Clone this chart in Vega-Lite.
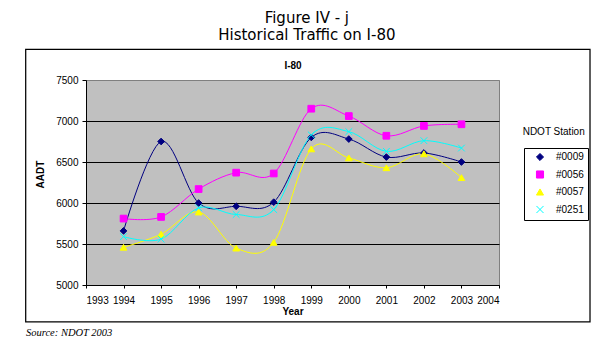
{
  "$schema": "https://vega.github.io/schema/vega-lite/v6.json",
  "width": 413,
  "height": 205,
  "autosize": {"type": "none"},
  "padding": {"left": 86, "top": 80, "right": 114, "bottom": 66},
  "background": "white",
  "title": {
    "text": ["Figure IV - j", "Historical Traffic on I-80"],
    "font": "DejaVu Sans",
    "fontSize": 15,
    "fontWeight": "normal",
    "lineHeight": 16.5,
    "color": "black",
    "anchor": "middle",
    "frame": "bounds",
    "offset": 6,
    "dx": -1
  },
  "config": {
    "view": {"fill": "#C0C0C0", "stroke": "#808080", "strokeWidth": 1},
    "font": "Liberation Sans",
    "axis": {
      "labelFont": "Liberation Sans",
      "labelFontSize": 10,
      "labelColor": "black",
      "titleFont": "Liberation Sans",
      "titleFontSize": 10,
      "titleFontWeight": "bold",
      "titleColor": "black",
      "tickColor": "black",
      "domainColor": "black",
      "gridOpacity": 1,
      "gridWidth": 1
    }
  },
  "data": {
    "values": [
      {"Station": "#0009", "Year": 1994, "AADT": 5660},
      {"Station": "#0009", "Year": 1995, "AADT": 6750},
      {"Station": "#0009", "Year": 1996, "AADT": 6000},
      {"Station": "#0009", "Year": 1997, "AADT": 5960},
      {"Station": "#0009", "Year": 1998, "AADT": 6010},
      {"Station": "#0009", "Year": 1999, "AADT": 6800},
      {"Station": "#0009", "Year": 2000, "AADT": 6780},
      {"Station": "#0009", "Year": 2001, "AADT": 6560},
      {"Station": "#0009", "Year": 2002, "AADT": 6610},
      {"Station": "#0009", "Year": 2003, "AADT": 6500},
      {"Station": "#0056", "Year": 1994, "AADT": 5810},
      {"Station": "#0056", "Year": 1995, "AADT": 5830},
      {"Station": "#0056", "Year": 1996, "AADT": 6170},
      {"Station": "#0056", "Year": 1997, "AADT": 6370},
      {"Station": "#0056", "Year": 1998, "AADT": 6360},
      {"Station": "#0056", "Year": 1999, "AADT": 7150},
      {"Station": "#0056", "Year": 2000, "AADT": 7060},
      {"Station": "#0056", "Year": 2001, "AADT": 6820},
      {"Station": "#0056", "Year": 2002, "AADT": 6940},
      {"Station": "#0056", "Year": 2003, "AADT": 6960},
      {"Station": "#0057", "Year": 1994, "AADT": 5460},
      {"Station": "#0057", "Year": 1995, "AADT": 5620},
      {"Station": "#0057", "Year": 1996, "AADT": 5890},
      {"Station": "#0057", "Year": 1997, "AADT": 5450},
      {"Station": "#0057", "Year": 1998, "AADT": 5520},
      {"Station": "#0057", "Year": 1999, "AADT": 6660},
      {"Station": "#0057", "Year": 2000, "AADT": 6550},
      {"Station": "#0057", "Year": 2001, "AADT": 6430},
      {"Station": "#0057", "Year": 2002, "AADT": 6600},
      {"Station": "#0057", "Year": 2003, "AADT": 6310},
      {"Station": "#0251", "Year": 1994, "AADT": 5590},
      {"Station": "#0251", "Year": 1995, "AADT": 5560},
      {"Station": "#0251", "Year": 1996, "AADT": 5940},
      {"Station": "#0251", "Year": 1997, "AADT": 5860},
      {"Station": "#0251", "Year": 1998, "AADT": 5920},
      {"Station": "#0251", "Year": 1999, "AADT": 6830},
      {"Station": "#0251", "Year": 2000, "AADT": 6870},
      {"Station": "#0251", "Year": 2001, "AADT": 6630},
      {"Station": "#0251", "Year": 2002, "AADT": 6760},
      {"Station": "#0251", "Year": 2003, "AADT": 6670}
    ]
  },
  "layer": [
    {
      "data": {"values": [{}]},
      "mark": {"type": "rect", "fill": "transparent", "stroke": "black", "strokeWidth": 1.25},
      "encoding": {
        "x": {
          "datum": 1991.394,
          "type": "quantitative",
          "scale": {"domain": [1993, 2004], "nice": false, "zero": false},
          "axis": {
            "orient": "bottom",
            "title": "Source: NDOT 2003",
            "labels": false,
            "ticks": false,
            "domain": false,
            "grid": false,
            "titleX": -60.5,
            "titleY": 50.5,
            "titleAlign": "left",
            "titleAnchor": "start",
            "titleBaseline": "alphabetic",
            "titleFont": "Liberation Serif",
            "titleFontStyle": "italic",
            "titleFontWeight": "normal",
            "titleFontSize": 10.5
          }
        },
        "x2": {"datum": 2006.424},
        "y": {
          "datum": 7874,
          "type": "quantitative",
          "scale": {"domain": [5000, 7500], "nice": false, "zero": false},
          "axis": null
        },
        "y2": {"datum": 4549}
      }
    },
    {
      "mark": {"type": "line", "interpolate": "cardinal", "strokeWidth": 1},
      "encoding": {
        "x": {
          "field": "Year",
          "type": "quantitative",
          "scale": {"domain": [1993, 2004], "nice": false, "zero": false},
          "axis": {
            "orient": "bottom",
            "title": "Year",
            "values": [1993, 1994, 1995, 1996, 1997, 1998, 1999, 2000, 2001, 2002, 2003, 2004],
            "format": "d",
            "grid": false,
            "tickSize": 3,
            "labelPadding": 7.5,
            "titleY": 29,
            "titleBaseline": "alphabetic"
          }
        },
        "y": {
          "field": "AADT",
          "type": "quantitative",
          "scale": {"domain": [5000, 7500], "nice": false, "zero": false},
          "axis": {
            "orient": "left",
            "title": "AADT",
            "values": [5000, 5500, 6000, 6500, 7000, 7500],
            "format": "d",
            "grid": true,
            "gridColor": {"condition": {"test": "datum.value >= 7500", "value": "#808080"}, "value": "black"},
            "tickSize": 4,
            "labelPadding": 4,
            "titleX": -46,
            "titleY": 94,
            "titleAngle": 270,
            "titleAlign": "center",
            "titleBaseline": "middle"
          }
        },
        "color": {
          "field": "Station",
          "type": "nominal",
          "scale": {"domain": ["#0009", "#0056", "#0057", "#0251"], "range": ["#000080", "#FF00FF", "#FFFF00", "#00FFFF"]},
          "legend": {
            "title": null,
            "orient": "none",
            "legendX": 438,
            "legendY": 68,
            "strokeColor": "black",
            "padding": 4,
            "symbolSize": 50,
            "symbolOffset": 7,
            "labelOffset": 11,
            "rowPadding": 5.5,
            "labelFont": "Liberation Sans",
            "labelFontSize": 10,
            "labelColor": "black",
            "symbolStrokeWidth": 1
          }
        }
      }
    },
    {
      "mark": {"type": "point", "filled": true, "size": 45, "strokeWidth": 1, "opacity": 1},
      "encoding": {
        "x": {
          "field": "Year",
          "type": "quantitative",
          "axis": {
            "orient": "top",
            "title": "I-80",
            "labels": false,
            "ticks": false,
            "domain": false,
            "grid": false,
            "titleY": -12,
            "titleBaseline": "alphabetic"
          }
        },
        "y": {
          "field": "AADT",
          "type": "quantitative",
          "axis": {
            "orient": "right",
            "title": "NDOT Station",
            "labels": false,
            "ticks": false,
            "domain": false,
            "grid": false,
            "titleX": 54.2,
            "titleY": 54.5,
            "titleAngle": 0,
            "titleAlign": "center",
            "titleBaseline": "alphabetic",
            "titleFontWeight": "normal"
          }
        },
        "color": {"field": "Station", "type": "nominal", "legend": null},
        "stroke": {
          "field": "Station",
          "type": "nominal",
          "scale": {"domain": ["#0009", "#0056", "#0057", "#0251"], "range": ["#000080", "#FF00FF", "#FFFF00", "#00FFFF"]},
          "legend": null
        },
        "shape": {
          "field": "Station",
          "type": "nominal",
          "scale": {"domain": ["#0009", "#0056", "#0057", "#0251"], "range": ["diamond", "square", "triangle-up", "M-1,-1L1,1M-1,1L1,-1"]},
          "legend": null
        }
      }
    }
  ],
  "resolve": {"axis": {"x": "independent", "y": "independent"}}
}
